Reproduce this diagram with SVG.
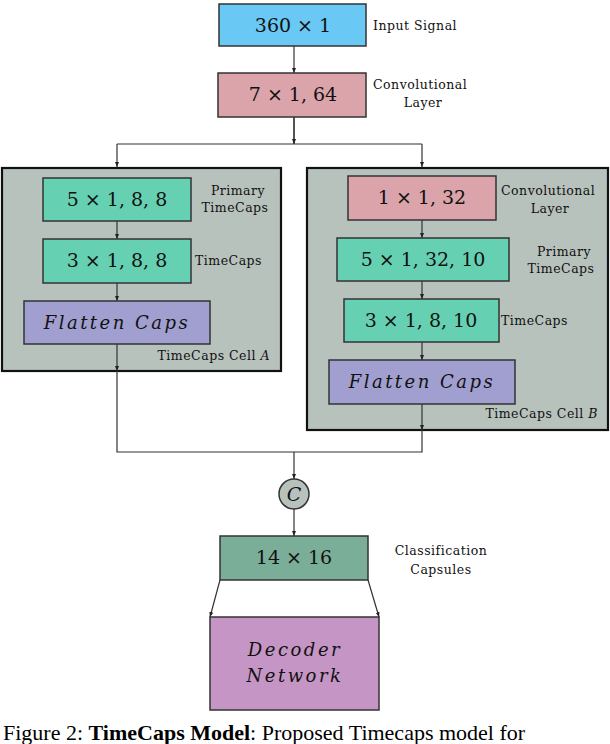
<svg xmlns="http://www.w3.org/2000/svg" width="610" height="744" viewBox="0 0 610 744">
<style>
.b{stroke:#333;stroke-width:1.5}
.cell{fill:#b8c2bd;stroke:#111;stroke-width:2.2}
.t{font-family:"DejaVu Serif","Liberation Serif",serif;font-size:19px;text-anchor:middle;fill:#111}
.i{font-family:"DejaVu Serif","Liberation Serif",serif;font-size:18px;font-style:italic;text-anchor:middle;letter-spacing:2.5px;fill:#111}
.l{font-family:"DejaVu Serif","Liberation Serif",serif;font-size:12.5px;fill:#111;letter-spacing:0.5px}
.c{fill:none;stroke:#333;stroke-width:1.2}
.cap{font-family:"Liberation Serif",serif;font-size:22px;fill:#000}
</style>
<defs><marker id="a" viewBox="0 0 10 10" refX="10" refY="5" markerWidth="5" markerHeight="7" orient="auto" markerUnits="userSpaceOnUse"><path d="M0,1 L10,5 L0,9 z" fill="#222"/></marker></defs>
<g id="cellA"><rect class="cell" x="2" y="168" width="279" height="203"/><text class="l" x="270" y="360" text-anchor="end">TimeCaps Cell <tspan font-style="italic">A</tspan></text></g>
<g id="cellB"><rect class="cell" x="307" y="168" width="301" height="262"/><text class="l" x="598" y="418" text-anchor="end">TimeCaps Cell <tspan font-style="italic">B</tspan></text></g>
<g id="connectors">
<path class="c" d="M294,46 V73" marker-end="url(#a)"/>
<path class="c" d="M294,117 V144"/>
<path class="c" d="M294,117 V144" marker-end="url(#a)"/>
<path class="c" d="M117,144 H422"/>
<path class="c" d="M117,144 V167" marker-end="url(#a)"/>
<path class="c" d="M422,144 V167" marker-end="url(#a)"/>
<path class="c" d="M117,221 V239" marker-end="url(#a)"/>
<path class="c" d="M117,283 V301" marker-end="url(#a)"/>
<path class="c" d="M117,344 V371" marker-end="url(#a)"/>
<path class="c" d="M422,220 V238" marker-end="url(#a)"/>
<path class="c" d="M422,281 V299" marker-end="url(#a)"/>
<path class="c" d="M422,342 V360" marker-end="url(#a)"/>
<path class="c" d="M422,404 V430" marker-end="url(#a)"/>
<path class="c" d="M117,371 V452 H422 V430"/>
<path class="c" d="M294,452 V479" marker-end="url(#a)"/>
<path class="c" d="M294,509 V536" marker-end="url(#a)"/>
<path class="c" d="M220,580 L210,617" marker-end="url(#a)"/>
<path class="c" d="M368,580 L379,617" marker-end="url(#a)"/>
</g>
<g id="input"><rect class="b" x="219" y="4" width="147" height="42" fill="#6ac8f4"/><text class="t" x="293" y="32">360 × 1</text><text class="l" x="373" y="30">Input Signal</text></g>
<g id="conv"><rect class="b" x="218" y="73" width="148" height="44" fill="#dba4ab"/><text class="t" x="293" y="101">7 × 1, 64</text><text class="l" x="373" y="89">Convolutional</text><text class="l" x="423" y="107" text-anchor="middle">Layer</text></g>
<g id="a1"><rect class="b" x="43" y="178" width="148" height="43" fill="#66d1b2"/><text class="t" x="117" y="206">5 × 1, 8, 8</text><text class="l" x="238" y="195" text-anchor="middle">Primary</text><text class="l" x="235" y="212" text-anchor="middle">TimeCaps</text></g>
<g id="a2"><rect class="b" x="43" y="239" width="148" height="44" fill="#66d1b2"/><text class="t" x="117" y="267">3 × 1, 8, 8</text><text class="l" x="195" y="265">TimeCaps</text></g>
<g id="a3"><rect class="b" x="24" y="301" width="186" height="43" fill="#a09fcf"/><text class="i" x="117" y="329">Flatten Caps</text></g>
<g id="b1"><rect class="b" x="348" y="176" width="148" height="44" fill="#dba4ab"/><text class="t" x="422" y="204">1 × 1, 32</text><text class="l" x="501" y="195">Convolutional</text><text class="l" x="550" y="213" text-anchor="middle">Layer</text></g>
<g id="b2"><rect class="b" x="337" y="238" width="172" height="43" fill="#66d1b2"/><text class="t" x="423" y="266">5 × 1, 32, 10</text><text class="l" x="564" y="256" text-anchor="middle">Primary</text><text class="l" x="561" y="273" text-anchor="middle">TimeCaps</text></g>
<g id="b3"><rect class="b" x="344" y="299" width="155" height="43" fill="#66d1b2"/><text class="t" x="421" y="327">3 × 1, 8, 10</text><text class="l" x="501" y="325">TimeCaps</text></g>
<g id="b4"><rect class="b" x="329" y="360" width="186" height="44" fill="#a09fcf"/><text class="i" x="422" y="388">Flatten Caps</text></g>
<g id="concat"><circle cx="294" cy="494" r="15" fill="#b8c2bd" stroke="#333" stroke-width="1.5"/><text x="294" y="501" text-anchor="middle" font-family="DejaVu Serif, serif" font-style="italic" font-size="19" fill="#111">C</text></g>
<g id="classcaps"><rect class="b" x="220" y="536" width="148" height="44" fill="#7aae99"/><text class="t" x="294" y="564">14 × 16</text><text class="l" x="441" y="555" text-anchor="middle">Classification</text><text class="l" x="441" y="574" text-anchor="middle">Capsules</text></g>
<g id="decoder"><rect class="b" x="210" y="617" width="169" height="93" fill="#c596c5"/><text class="i" x="295" y="656">Decoder</text><text class="i" x="295" y="682">Network</text></g>
<text class="cap" x="3" y="740">Figure 2: <tspan font-weight="bold">TimeCaps Model</tspan>: Proposed Timecaps model for</text>
</svg>
